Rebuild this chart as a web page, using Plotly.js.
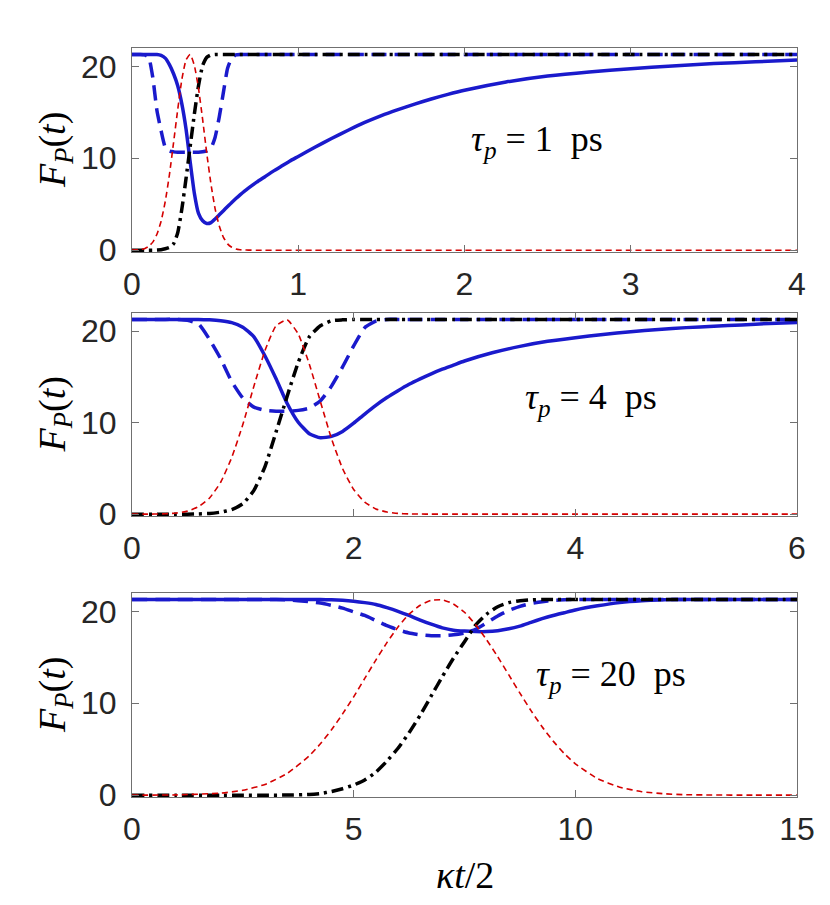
<!DOCTYPE html>
<html><head><meta charset="utf-8">
<script src="https://cdn.plot.ly/plotly-3.0.1.min.js"></script>
<style>html,body{margin:0;padding:0;background:#fff;}</style>
</head><body>
<div id="chart" style="width:830px;height:905px;"></div>
<script>
// ---------- Panel 1 (tau_p = 1 ps) ----------
const t1 = [0,0.025,0.05,0.075,0.1,0.125,0.15,0.175,0.2,0.225,0.25,0.275,0.3,0.325,0.35,0.375,0.4,0.425,0.45,0.475,0.5,0.525,0.55,0.575,0.6,0.625,0.65,0.675,0.7,
            0.75,0.8,0.85,0.9,0.95,1.0,1.1,1.2,1.3,1.4,1.5,1.6,1.7,1.8,1.9,2.0,2.25,2.5,2.75,3.0,3.25,3.5,3.75,4.0];
const solid1 = [21.3,21.3,21.3,21.3,21.3,21.3,21.3,21.2,20.9,20.2,19.2,17.9,15.9,13.2,9.6,6.2,4.0,3.2,2.9,3.0,3.4,3.85,4.3,4.75,5.2,5.62,6.02,6.4,6.75,
            7.4,8.0,8.6,9.15,9.7,10.2,11.2,12.15,13.05,13.9,14.65,15.3,15.9,16.45,16.95,17.4,18.3,18.95,19.4,19.75,20.05,20.3,20.5,20.7];
const dashed1 = [21.3,21.3,21.3,21.25,21.0,18.8,15.2,13.0,11.2,10.8,10.7,10.65,10.65,10.65,10.65,10.65,10.65,10.7,10.8,11.1,12.3,14.5,17.2,19.8,20.9,21.25,21.3,21.3,21.3,
            21.3,21.3,21.3,21.3,21.3,21.3,21.3,21.3,21.3,21.3,21.3,21.3,21.3,21.3,21.3,21.3,21.3,21.3,21.3,21.3,21.3,21.3,21.3,21.3];
const black1 = [0,0,0,0,0,0,0.02,0.05,0.15,0.3,0.7,1.9,4.5,7.8,11.3,14.8,17.9,20.1,21.0,21.25,21.3,21.3,21.3,21.3,21.3,21.3,21.3,21.3,21.3,
            21.3,21.3,21.3,21.3,21.3,21.3,21.3,21.3,21.3,21.3,21.3,21.3,21.3,21.3,21.3,21.3,21.3,21.3,21.3,21.3,21.3,21.3,21.3,21.3];
const red1 = [0.01,0.03,0.07,0.17,0.41,0.88,1.73,3.15,5.3,8.2,11.7,15.3,18.6,20.7,21.3,20.1,17.6,14.2,10.5,7.2,4.5,2.63,1.4,0.69,0.32,0.13,0.05,0.02,0.01,
            0,0,0,0,0,0,0,0,0,0,0,0,0,0,0,0,0,0,0,0,0,0,0,0];

// ---------- Panel 2 (tau_p = 4 ps) ----------
const t2 = [0,0.1,0.2,0.3,0.4,0.5,0.6,0.7,0.8,0.9,1.0,1.1,1.2,1.3,1.4,1.5,1.6,1.7,1.8,1.9,2.0,2.1,2.2,2.3,2.4,2.5,2.6,2.7,2.8,2.9,3.0,
            3.25,3.5,3.75,4.0,4.25,4.5,4.75,5.0,5.25,5.5,5.75,6.0];
const solid2 = [21.3,21.3,21.3,21.3,21.3,21.3,21.3,21.25,21.15,20.95,20.45,19.4,17.3,14.8,12.1,10.05,8.8,8.35,8.5,9.05,9.95,10.95,11.9,12.75,13.5,14.2,14.8,15.35,15.85,16.3,16.75,
            17.65,18.35,18.9,19.3,19.65,19.95,20.2,20.4,20.55,20.7,20.85,20.95];
const dashed2 = [21.3,21.3,21.3,21.3,21.3,21.2,20.8,19.1,17.0,14.5,12.7,11.7,11.35,11.25,11.25,11.35,11.6,12.4,14.0,16.1,18.4,20.4,21.1,21.3,21.3,21.3,21.3,21.3,21.3,21.3,21.3,
            21.3,21.3,21.3,21.3,21.3,21.3,21.3,21.3,21.3,21.3,21.3,21.3];
const black2 = [0,0,0,0,0,0,0.02,0.08,0.22,0.5,1.15,2.6,5.2,9.0,12.9,16.6,19.4,20.6,21.15,21.25,21.3,21.3,21.3,21.3,21.3,21.3,21.3,21.3,21.3,21.3,21.3,
            21.3,21.3,21.3,21.3,21.3,21.3,21.3,21.3,21.3,21.3,21.3,21.3];
const red2 = [0,0,0.01,0.04,0.12,0.33,0.81,1.77,3.49,6.2,9.8,14.0,17.9,20.6,21.25,19.7,16.4,12.3,8.25,4.98,2.7,1.31,0.57,0.23,0.08,0.03,0.01,0,0,0,0,
            0,0,0,0,0,0,0,0,0,0,0,0];

// ---------- Panel 3 (tau_p = 20 ps) ----------
const t3 = [0,1,2,2.5,3,3.5,4,4.25,4.5,4.75,5,5.25,5.5,5.75,6,6.25,6.5,6.75,7,7.25,7.5,7.75,8,8.25,8.5,8.75,9,9.25,9.5,9.75,10,10.5,11,11.5,12,12.5,13,14,15];
const solid3 = [21.3,21.3,21.3,21.3,21.3,21.3,21.3,21.28,21.25,21.2,21.1,20.95,20.75,20.4,20.0,19.55,19.05,18.6,18.2,17.95,17.85,17.8,17.8,17.9,18.1,18.4,18.8,19.2,19.55,19.85,20.15,20.6,20.95,21.15,21.25,21.3,21.3,21.3,21.3];
const dashed3 = [21.3,21.3,21.3,21.3,21.3,21.25,21.05,20.9,20.65,20.35,19.95,19.55,19.0,18.45,18.0,17.65,17.45,17.35,17.35,17.45,17.65,18.05,18.75,19.5,20.1,20.55,20.85,21.05,21.2,21.25,21.3,21.3,21.3,21.3,21.3,21.3,21.3,21.3,21.3];
const black3 = [0,0,0,0,0,0.01,0.08,0.18,0.4,0.7,1.1,1.65,2.5,3.7,5.1,6.8,8.7,10.8,12.9,14.9,16.7,18.5,19.7,20.5,20.95,21.15,21.25,21.3,21.3,21.3,21.3,21.3,21.3,21.3,21.3,21.3,21.3,21.3,21.3];
const red3 = [0,0.03,0.22,0.53,1.17,2.36,4.29,5.59,7.11,8.84,10.7,12.7,14.7,16.6,18.3,19.7,20.66,21.2,21.26,20.8,19.9,18.55,16.9,15.05,13.08,11.1,9.2,7.44,5.88,4.53,3.41,1.8,0.87,0.38,0.15,0.05,0.02,0,0];

const xTicks1 = [0,1,2,3,4];
const xTicks2 = [0,2,4,6];
const xTicks3 = [0,5,10,15];
const yTicks = [0,10,20];
const panelLabels = ['1','4','20'];

const BLUE = '#1a1acc', RED = '#d40000', BLACK = '#000000';

function curves(t, s, d, k, r, xa, ya) {
  return [
    {x:t, y:s, xaxis:xa, yaxis:ya, mode:'lines', line:{color:BLUE, width:3.5, shape:'spline', smoothing:0.5}},
    {x:t, y:d, xaxis:xa, yaxis:ya, mode:'lines', line:{color:BLUE, width:3.5, dash:'15px,8px', shape:'spline', smoothing:0.5}},
    {x:t, y:k, xaxis:xa, yaxis:ya, mode:'lines', line:{color:BLACK, width:3.5, dash:'12px,5px,3px,5px', shape:'spline', smoothing:0.5}},
    {x:t, y:r, xaxis:xa, yaxis:ya, mode:'lines', line:{color:RED, width:1.6, dash:'6px,4px', shape:'spline', smoothing:0.5}}
  ];
}

const data = [].concat(
  curves(t1, solid1, dashed1, black1, red1, 'x', 'y'),
  curves(t2, solid2, dashed2, black2, red2, 'x2', 'y2'),
  curves(t3, solid3, dashed3, black3, red3, 'x3', 'y3')
);

const axisBase = {
  showline:true, linecolor:'#707070', linewidth:1, mirror:'allticks',
  ticks:'inside', ticklen:7, tickwidth:1, tickcolor:'#707070',
  showgrid:false, zeroline:false, fixedrange:true,
  tickfont:{family:'Liberation Sans, Arial, sans-serif', size:32, color:'#262626'}
};
const xa = (range, tv, anchor) => Object.assign({}, axisBase, {domain:[0,1], range:range, tickvals:tv, ticktext:tv.map(String), anchor:anchor, ticklabelstandoff:4});
const ya = (dom, anchor) => Object.assign({}, axisBase, {domain:dom, range:[-0.2,22], tickvals:yTicks, ticktext:yTicks.map(String), anchor:anchor, ticklabelstandoff:8});

const serif = 'Liberation Serif, Times New Roman, serif';
const yTitle = '<i>F</i><sub><i>P</i></sub>(<i>t</i>)';
const dom1 = [0.7276,1], dom2 = [0.3752,0.6462], dom3 = [0,0.2724];
const tauText = v => '<i>τ</i><sub><i>p</i></sub>&nbsp;=&nbsp;' + v + '&nbsp;&nbsp;ps';

const annotations = [
  {xref:'paper', yref:'paper', x:-0.1158, y:(dom1[0]+dom1[1])/2, text:yTitle, textangle:-90, showarrow:false, xanchor:'center', yanchor:'middle', font:{family:serif, size:38, color:'#000'}},
  {xref:'paper', yref:'paper', x:-0.1158, y:(dom2[0]+dom2[1])/2, text:yTitle, textangle:-90, showarrow:false, xanchor:'center', yanchor:'middle', font:{family:serif, size:38, color:'#000'}},
  {xref:'paper', yref:'paper', x:-0.1158, y:(dom3[0]+dom3[1])/2, text:yTitle, textangle:-90, showarrow:false, xanchor:'center', yanchor:'middle', font:{family:serif, size:38, color:'#000'}},
  {xref:'x', yref:'y', x:2.435, y:11.8, text:tauText(panelLabels[0]), showarrow:false, xanchor:'center', yanchor:'middle', font:{family:serif, size:36, color:'#000'}},
  {xref:'x2', yref:'y2', x:4.14, y:12.5, text:tauText(panelLabels[1]), showarrow:false, xanchor:'center', yanchor:'middle', font:{family:serif, size:36, color:'#000'}},
  {xref:'x3', yref:'y3', x:10.81, y:12.9, text:tauText(panelLabels[2]), showarrow:false, xanchor:'center', yanchor:'middle', font:{family:serif, size:36, color:'#000'}},
  {xref:'paper', yref:'paper', x:0.5, y:-0.104, text:'<i>κt</i>/2', showarrow:false, xanchor:'center', yanchor:'middle', font:{family:serif, size:38, color:'#000'}}
];

const layout = {
  width:830, height:905,
  margin:{l:132, r:33, t:48, b:108},
  paper_bgcolor:'#ffffff', plot_bgcolor:'#ffffff',
  showlegend:false,
  xaxis: xa([0,4], xTicks1, 'y'),
  yaxis: ya(dom1, 'x'),
  xaxis2: xa([0,6], xTicks2, 'y2'),
  yaxis2: ya(dom2, 'x2'),
  xaxis3: xa([0,15], xTicks3, 'y3'),
  yaxis3: ya(dom3, 'x3'),
  annotations: annotations
};

Plotly.newPlot('chart', data, layout, {staticPlot:true, displayModeBar:false});
</script>
</body></html>
